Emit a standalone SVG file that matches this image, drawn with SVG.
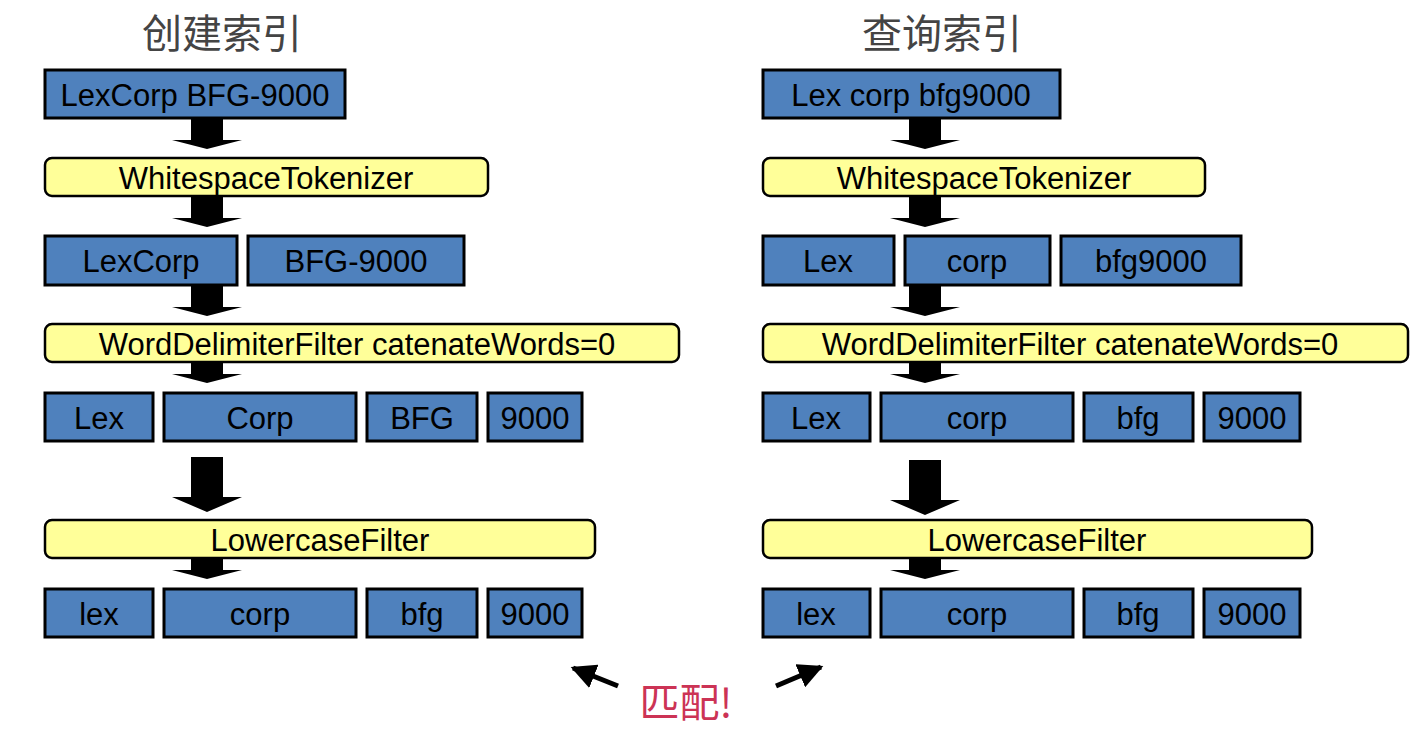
<svg xmlns="http://www.w3.org/2000/svg" width="1423" height="741" viewBox="0 0 1423 741">
<defs>
<style>
.b{fill:#4f81bd;stroke:#000;stroke-width:3}
.y{fill:#ffff99;stroke:#000;stroke-width:2.5}
.t{font-family:"Liberation Sans","DejaVu Sans",sans-serif;font-size:31px;fill:#000;text-anchor:middle}
.h{font-family:"Noto Sans CJK SC",sans-serif;font-size:40px;fill:#444;text-anchor:middle}
.ar{fill:#000}
</style>
<g id="blk"><path d="M-16 0H16V22H35L0 31L-35 22H-16Z"/></g>
<g id="big"><path d="M-16 0H16V40H35L0 55L-35 40H-16Z"/></g>
<marker id="m" viewBox="0 0 10 10" refX="9" refY="5" markerWidth="5" markerHeight="5" orient="auto"><path d="M0 0L10 5L0 10Z"/></marker>
</defs>
<g id="connectors">
<use href="#blk" x="207" y="118"/><use href="#blk" x="207" y="196"/><use href="#blk" x="207" y="285"/><use href="#blk" x="207" y="352"/>
<use href="#big" x="207" y="457"/><use href="#blk" x="207" y="548"/>
<use href="#blk" x="925" y="118"/><use href="#blk" x="925" y="196"/><use href="#blk" x="925" y="285"/><use href="#blk" x="925" y="352"/>
<use href="#big" x="925" y="460"/><use href="#blk" x="925" y="548"/>
<line x1="618" y1="686" x2="573" y2="668" stroke="#000" stroke-width="5" marker-end="url(#m)"/>
<line x1="776" y1="686" x2="821" y2="667" stroke="#000" stroke-width="5" marker-end="url(#m)"/>
</g>
<text class="h" x="222" y="48">创建索引</text>
<text class="h" x="942" y="48">查询索引</text>
<text x="686" y="717" font-family="Noto Sans CJK SC,sans-serif" font-size="40" fill="#cc3355" text-anchor="middle">匹配!</text>
<g id="L1"><rect class="b" x="45" y="70" width="300" height="48"/><text class="t" x="195" y="106">LexCorp BFG-9000</text></g>
<g id="L2"><rect class="y" x="45" y="158" width="443" height="38" rx="7"/><text class="t" x="266" y="189">WhitespaceTokenizer</text></g>
<g id="L3a"><rect class="b" x="45" y="236" width="192" height="49"/><text class="t" x="141" y="272">LexCorp</text></g>
<g id="L3b"><rect class="b" x="248" y="236" width="216" height="49"/><text class="t" x="356" y="272">BFG-9000</text></g>
<g id="L4"><rect class="y" x="45" y="324" width="634" height="38" rx="7"/><text class="t" x="357" y="355">WordDelimiterFilter catenateWords=0</text></g>
<g id="L5a"><rect class="b" x="45" y="393" width="108" height="48"/><text class="t" x="99" y="429">Lex</text></g>
<g id="L5b"><rect class="b" x="164" y="393" width="192" height="48"/><text class="t" x="260" y="429">Corp</text></g>
<g id="L5c"><rect class="b" x="367" y="393" width="110" height="48"/><text class="t" x="422" y="429">BFG</text></g>
<g id="L5d"><rect class="b" x="488" y="393" width="94" height="48"/><text class="t" x="535" y="429">9000</text></g>
<g id="L6"><rect class="y" x="45" y="520" width="550" height="38" rx="7"/><text class="t" x="320" y="551">LowercaseFilter</text></g>
<g id="L7a"><rect class="b" x="45" y="589" width="108" height="48"/><text class="t" x="99" y="625">lex</text></g>
<g id="L7b"><rect class="b" x="164" y="589" width="192" height="48"/><text class="t" x="260" y="625">corp</text></g>
<g id="L7c"><rect class="b" x="367" y="589" width="110" height="48"/><text class="t" x="422" y="625">bfg</text></g>
<g id="L7d"><rect class="b" x="488" y="589" width="94" height="48"/><text class="t" x="535" y="625">9000</text></g>
<g id="R1"><rect class="b" x="763" y="70" width="297" height="48"/><text class="t" x="911" y="106">Lex corp bfg9000</text></g>
<g id="R2"><rect class="y" x="763" y="158" width="442" height="38" rx="7"/><text class="t" x="984" y="189">WhitespaceTokenizer</text></g>
<g id="R3a"><rect class="b" x="763" y="236" width="131" height="49"/><text class="t" x="828" y="272">Lex</text></g>
<g id="R3b"><rect class="b" x="905" y="236" width="145" height="49"/><text class="t" x="977" y="272">corp</text></g>
<g id="R3c"><rect class="b" x="1061" y="236" width="180" height="49"/><text class="t" x="1151" y="272">bfg9000</text></g>
<g id="R4"><rect class="y" x="763" y="324" width="645" height="38" rx="7"/><text class="t" x="1080" y="355">WordDelimiterFilter catenateWords=0</text></g>
<g id="R5a"><rect class="b" x="763" y="393" width="107" height="48"/><text class="t" x="816" y="429">Lex</text></g>
<g id="R5b"><rect class="b" x="881" y="393" width="192" height="48"/><text class="t" x="977" y="429">corp</text></g>
<g id="R5c"><rect class="b" x="1084" y="393" width="109" height="48"/><text class="t" x="1138" y="429">bfg</text></g>
<g id="R5d"><rect class="b" x="1204" y="393" width="96" height="48"/><text class="t" x="1252" y="429">9000</text></g>
<g id="R6"><rect class="y" x="763" y="520" width="549" height="38" rx="7"/><text class="t" x="1037" y="551">LowercaseFilter</text></g>
<g id="R7a"><rect class="b" x="763" y="589" width="107" height="48"/><text class="t" x="816" y="625">lex</text></g>
<g id="R7b"><rect class="b" x="881" y="589" width="192" height="48"/><text class="t" x="977" y="625">corp</text></g>
<g id="R7c"><rect class="b" x="1084" y="589" width="109" height="48"/><text class="t" x="1138" y="625">bfg</text></g>
<g id="R7d"><rect class="b" x="1204" y="589" width="96" height="48"/><text class="t" x="1252" y="625">9000</text></g>
</svg>
